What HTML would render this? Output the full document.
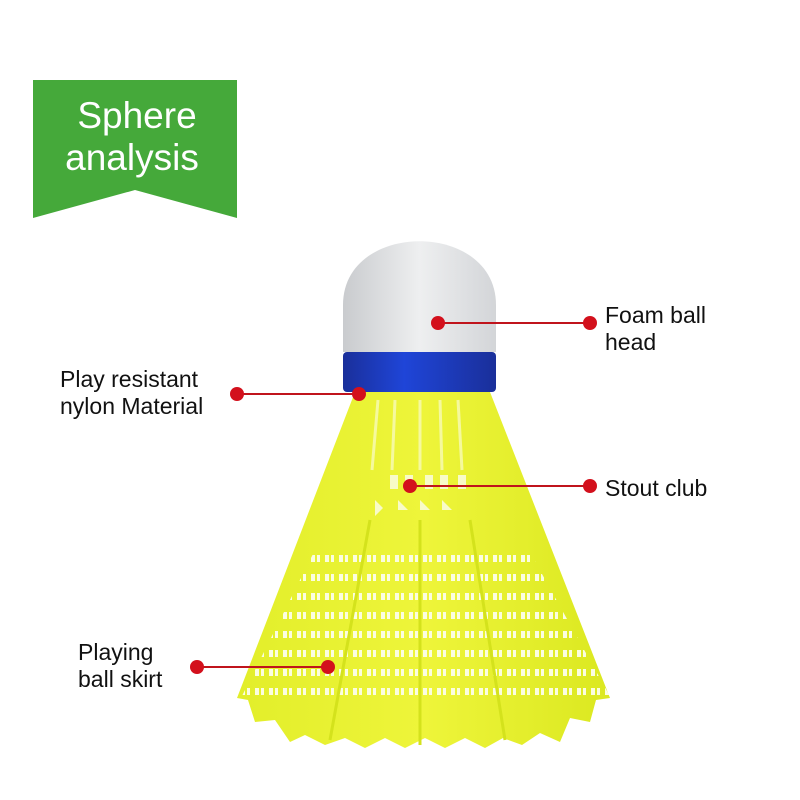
<!DOCTYPE html>
<html><head><style>
body{margin:0;background:#fff;}
svg{display:block}
text{font-family:"Liberation Sans",Arial,sans-serif;}
</style></head><body>
<svg width="800" height="800" viewBox="0 0 800 800">
<defs>
<linearGradient id="dome" x1="0" x2="1">
<stop offset="0" stop-color="#c9cbce"/><stop offset="0.5" stop-color="#eeeff0"/><stop offset="1" stop-color="#d3d5d8"/>
</linearGradient>
<linearGradient id="band" x1="0" x2="1">
<stop offset="0" stop-color="#1a2f9a"/><stop offset="0.4" stop-color="#1f45d8"/><stop offset="1" stop-color="#1a2f9a"/>
</linearGradient>
<linearGradient id="skirt" x1="0" x2="1">
<stop offset="0" stop-color="#e2ee2a"/><stop offset="0.5" stop-color="#eef53a"/><stop offset="1" stop-color="#dbe820"/>
</linearGradient>
<pattern id="holes" width="14" height="19" patternUnits="userSpaceOnUse">
<rect x="3" y="4" width="4" height="7" fill="#fbfde0"/>
<rect x="9" y="4" width="3" height="7" fill="#fbfde0"/>
</pattern>
<clipPath id="lower"><path d="M330,520 L512,520 L612,700 L240,700 Z"/></clipPath>
</defs>
<path d="M33,80 H237 V218 L135,190 L33,218 Z" fill="#45a93a"/>
<text x="137" y="128" font-size="37" fill="#fff" text-anchor="middle">Sphere</text>
<text x="132" y="170" font-size="37" fill="#fff" text-anchor="middle">analysis</text>
<path d="M355,392 L490,392 L610,698 L596,700 L590,722 L570,718 L560,742 L540,733 L522,745 L503,738 L485,748 L465,738 L445,748 L425,738 L405,748 L385,738 L365,748 L345,738 L325,745 L305,735 L290,742 L275,720 L255,722 L248,700 L237,698 Z" fill="url(#skirt)"/>
<g stroke="#f8fbb8" stroke-width="3" opacity="0.8">
<line x1="378" y1="400" x2="372" y2="470"/><line x1="395" y1="400" x2="392" y2="470"/>
<line x1="420" y1="400" x2="420" y2="470"/><line x1="440" y1="400" x2="442" y2="470"/>
<line x1="458" y1="400" x2="462" y2="470"/>
</g>
<g fill="#f8fbc8">
<rect x="390" y="475" width="8" height="14"/><rect x="405" y="475" width="8" height="14"/><rect x="425" y="475" width="8" height="14"/><rect x="440" y="475" width="8" height="14"/><rect x="458" y="475" width="8" height="14"/>
<path d="M375,500 l8,8 l-8,8z M398,500 l10,10 l-10,0z M420,500 l10,10 l-10,0z M442,500 l10,10 l-10,0z"/>
</g>
<rect x="240" y="555" width="372" height="150" fill="url(#holes)" clip-path="url(#lower)"/>
<g stroke="#d4e21c" stroke-width="3">
<line x1="370" y1="520" x2="330" y2="740"/><line x1="420" y1="520" x2="420" y2="745"/><line x1="470" y1="520" x2="505" y2="740"/>
</g>
<path d="M343,352 V305 C343,220 496,220 496,305 V352 Z" fill="url(#dome)"/>
<rect x="343" y="352" width="153" height="40" rx="4" fill="url(#band)"/>
<g stroke="#c0141c" stroke-width="2">
<line x1="438" y1="323" x2="590" y2="323"/>
<line x1="237" y1="394" x2="359" y2="394"/>
<line x1="410" y1="486" x2="590" y2="486"/>
<line x1="197" y1="667" x2="328" y2="667"/>
</g>
<g fill="#d3101c">
<circle cx="438" cy="323" r="7"/><circle cx="590" cy="323" r="7"/>
<circle cx="237" cy="394" r="7"/><circle cx="359" cy="394" r="7"/>
<circle cx="410" cy="486" r="7"/><circle cx="590" cy="486" r="7"/>
<circle cx="197" cy="667" r="7"/><circle cx="328" cy="667" r="7"/>
</g>
<g font-size="23" fill="#111">
<text x="605" y="323">Foam ball</text><text x="605" y="350">head</text>
<text x="60" y="387">Play resistant</text><text x="60" y="414">nylon  Material</text>
<text x="605" y="496">Stout club</text>
<text x="78" y="660">Playing</text><text x="78" y="687">ball skirt</text>
</g>
</svg>
</body></html>
